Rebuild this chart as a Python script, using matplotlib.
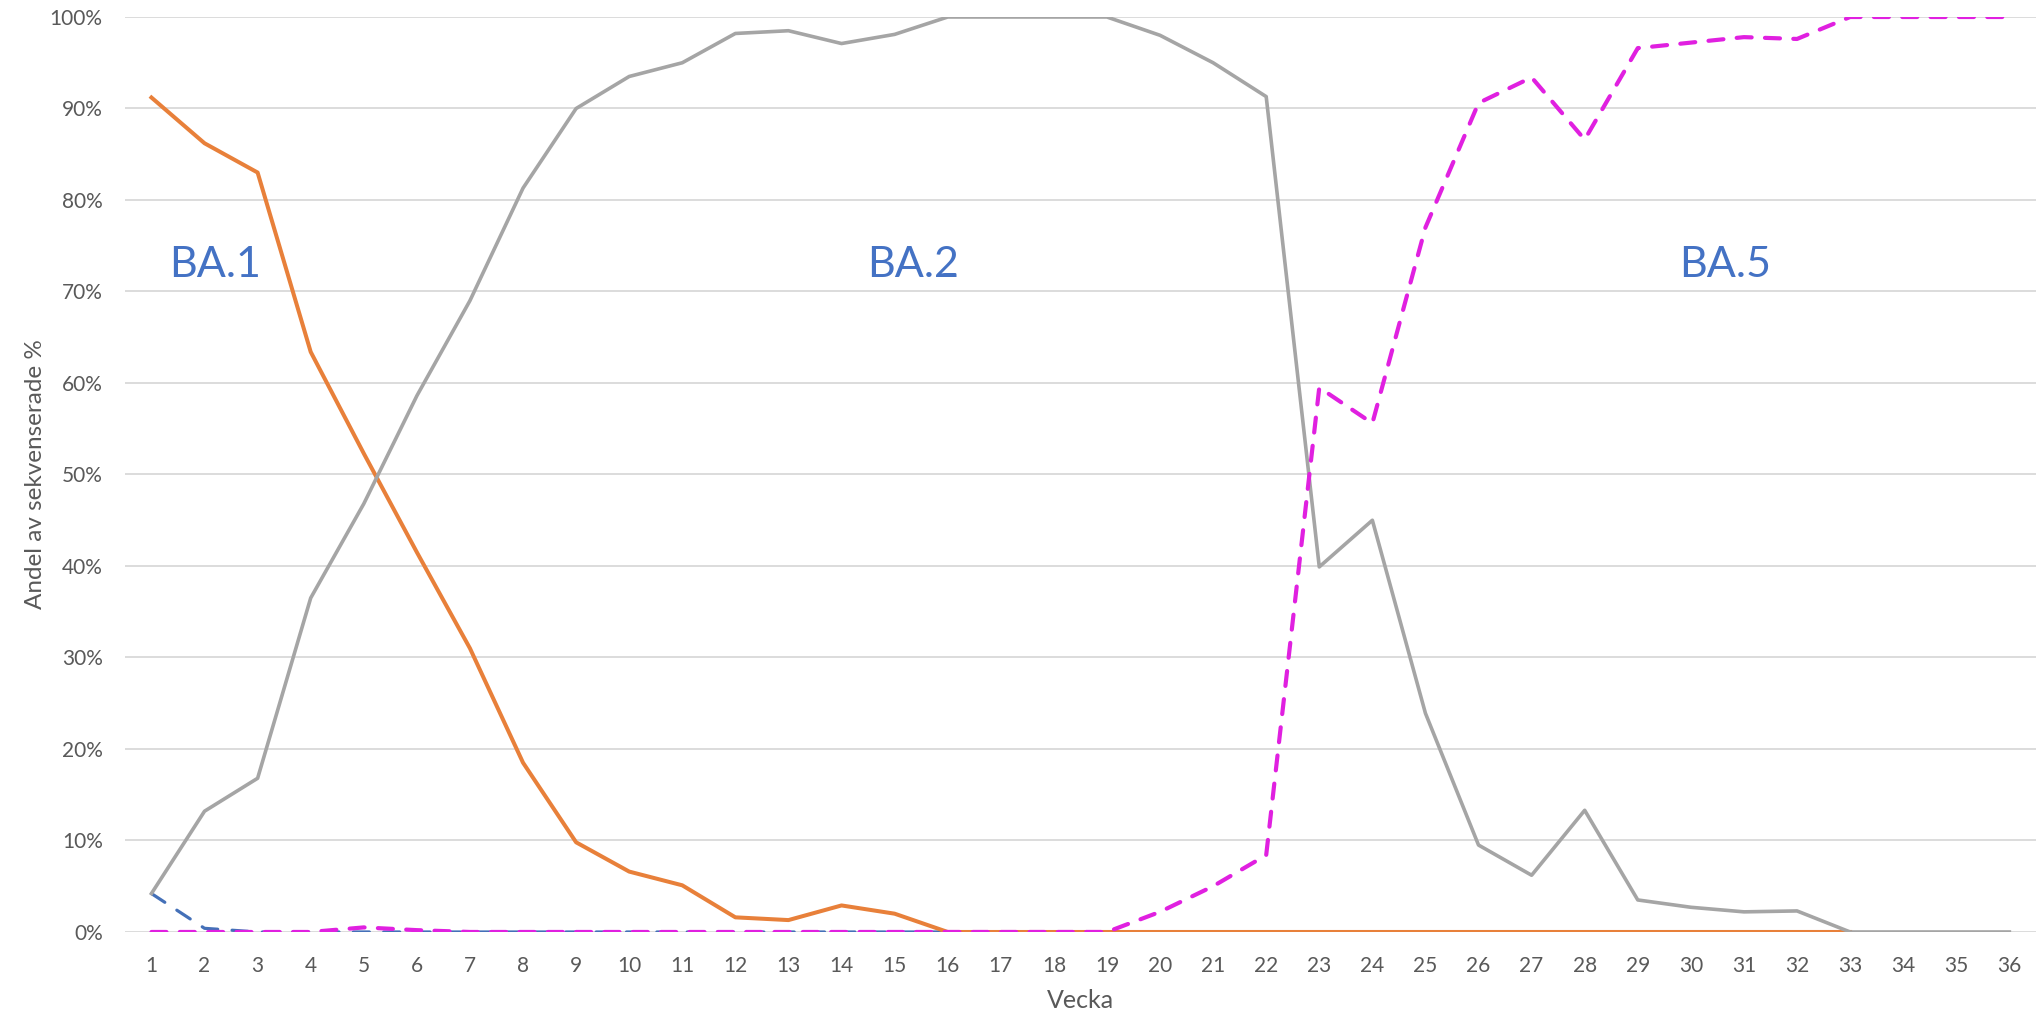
import matplotlib
matplotlib.use("Agg")
import matplotlib.pyplot as plt
from matplotlib.ticker import PercentFormatter

plt.rcParams['font.family'] = ['Lato', 'DejaVu Sans']

# Vecka 1-36
veckor = list(range(1, 37))

# andel av sekvenserade (%)
ba1_blaa = [4.2, 0.4, 0, 0, 0, 0, 0, 0, 0, 0, 0, 0, 0, 0, 0, 0, 0, 0,
            0, 0, 0, 0, 0, 0, 0, 0, 0, 0, 0, 0, 0, 0, 0]
ba1 = [91.2, 86.2, 83.0, 63.4, 52.3, 41.5, 31.0, 18.5, 9.8, 6.6, 5.1, 1.6,
       1.3, 2.9, 2.0, 0, 0, 0, 0, 0, 0, 0, 0, 0, 0, 0, 0, 0, 0, 0, 0, 0, 0]
ba2 = [4.2, 13.2, 16.8, 36.5, 46.8, 58.6, 69.0, 81.3, 90.0, 93.5, 95.0, 98.2,
       98.5, 97.1, 98.1, 100, 100, 100, 100, 98.0, 95.0, 91.3, 39.9, 45.0,
       23.9, 9.5, 6.2, 13.3, 3.5, 2.7, 2.2, 2.3, 0, 0, 0, 0]
ba5 = [0, 0, 0, 0, 0.5, 0.2, 0, 0, 0, 0, 0, 0, 0, 0, 0, 0, 0, 0, 0, 2.2,
       5.0, 8.4, 59.5, 55.6, 77.0, 90.6, 93.4, 86.6, 96.6, 97.2, 97.8, 97.6,
       100, 100, 100, 100]

etiketter = ["BA.1", "BA.2", "BA.5"]
etikett_x = [2.2, 15.35, 30.65]
etikett_y = [72.9, 72.9, 72.9]

fig = plt.figure(figsize=(20.41, 10.18), dpi=100)
ax = fig.add_axes([0.0612, 0.0845, 0.9363, 0.8988])

ax.plot(veckor[:len(ba1_blaa)], ba1_blaa, color='#4470B8', lw=2.3,
        dashes=(5, 4.5), solid_capstyle='round', dash_capstyle='round', zorder=2)
ax.plot(veckor[:len(ba1)], ba1, color='#E8803A', lw=2.9, zorder=3,
        solid_joinstyle='round')
ax.plot(veckor, ba2, color='#A5A5A5', lw=2.6, zorder=4, solid_joinstyle='round')
ax.plot(veckor, ba5, color='#E020E0', lw=3.0, dashes=(3.6, 3.2),
        dash_capstyle='round', zorder=5)

for txt, x, y in zip(etiketter, etikett_x, etikett_y):
    ax.text(x, y, txt, color='#4472C4', fontsize=31, ha='center', va='center')

ax.set_xlim(0.5, 36.5)
ax.set_ylim(0, 100)
ax.set_xticks(veckor)
ax.set_yticks(range(0, 101, 10))
ax.yaxis.set_major_formatter(PercentFormatter(decimals=0))
ax.tick_params(length=0, labelsize=15, labelcolor='#595959')
ax.tick_params(axis='x', pad=17)
ax.tick_params(axis='y', pad=16)
ax.grid(axis='y', color='#D9D9D9', lw=1.3)
ax.set_axisbelow(True)
for s in ax.spines.values():
    s.set_visible(False)

ax.set_xlabel("Vecka", fontsize=18, color='#595959', labelpad=10)
ax.set_ylabel("Andel av sekvenserade %", fontsize=17.5, color='#595959', labelpad=3)

fig.savefig("out.png", dpi=100, facecolor='white')
